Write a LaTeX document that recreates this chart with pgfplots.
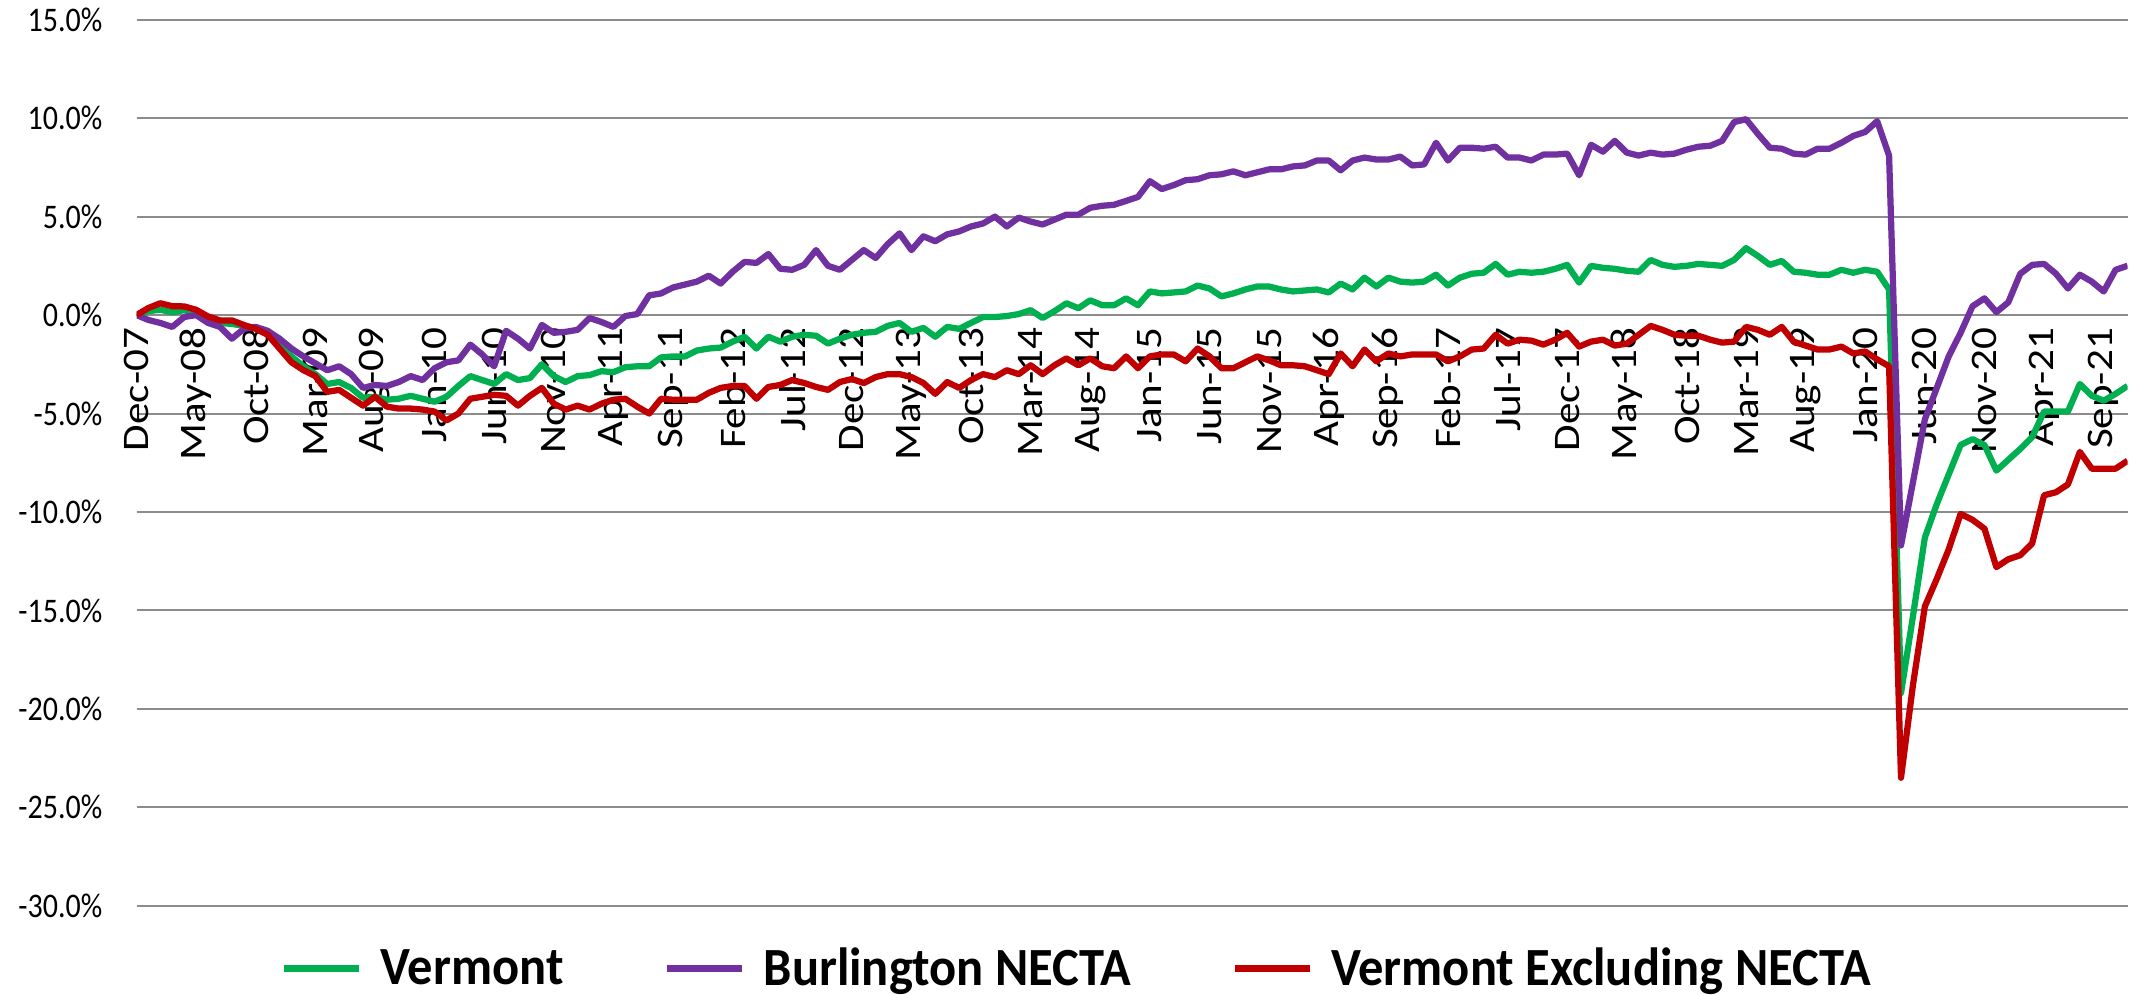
\documentclass[border=0pt]{standalone}
\usepackage{fontspec}
\setmainfont{Carlito}
\newfontfamily\xlabfont[FakeStretch=1.15]{Carlito}
\newfontfamily\narrowfont[FakeStretch=0.87]{Carlito}
\newfontfamily\legfont[FakeStretch=0.94]{Carlito}
\usepackage{pgfplots}
\usepackage{pgfplotstable}
\pgfplotsset{compat=1.18}
\definecolor{vtgreen}{HTML}{00B050}
\definecolor{btvpurple}{HTML}{7030A0}
\definecolor{restred}{HTML}{C00000}
\definecolor{gridgray}{HTML}{8C8C8C}

% month index (0 = Dec-07), change since Dec-07 in %
\pgfplotstableread{
m vt btv rest
0 0 0 0
1 0.2 -0.25 0.36
2 0.27 -0.4 0.6
3 0.14 -0.6 0.45
4 0.25 -0.1 0.44
5 0.07 0.0 0.27
6 -0.25 -0.4 -0.07
7 -0.4 -0.6 -0.27
8 -0.45 -1.2 -0.27
9 -0.55 -0.7 -0.5
10 -0.65 -0.6 -0.7
11 -0.9 -0.8 -1.0
12 -1.5 -1.2 -1.7
13 -2.1 -1.7 -2.4
14 -2.6 -2.1 -2.8
15 -3.0 -2.45 -3.1
16 -3.5 -2.8 -3.9
17 -3.4 -2.6 -3.8
18 -3.7 -3.0 -4.2
19 -4.2 -3.7 -4.6
20 -4.15 -3.55 -4.15
21 -4.3 -3.6 -4.65
22 -4.25 -3.4 -4.75
23 -4.1 -3.1 -4.75
24 -4.25 -3.3 -4.8
25 -4.4 -2.7 -4.9
26 -4.15 -2.4 -5.35
27 -3.6 -2.3 -5.0
28 -3.1 -1.5 -4.25
29 -3.3 -2.0 -4.15
30 -3.5 -2.6 -4.05
31 -3.0 -0.8 -4.1
32 -3.3 -1.2 -4.6
33 -3.2 -1.7 -4.1
34 -2.5 -0.5 -3.7
35 -3.1 -0.9 -4.5
36 -3.4 -0.85 -4.8
37 -3.1 -0.75 -4.6
38 -3.05 -0.15 -4.8
39 -2.85 -0.35 -4.5
40 -2.9 -0.6 -4.3
41 -2.65 -0.05 -4.25
42 -2.6 0.05 -4.65
43 -2.6 1.0 -5.0
44 -2.15 1.1 -4.25
45 -2.1 1.4 -4.3
46 -2.1 1.55 -4.3
47 -1.8 1.7 -4.3
48 -1.7 2.0 -3.95
49 -1.65 1.6 -3.7
50 -1.35 2.2 -3.6
51 -1.1 2.7 -3.6
52 -1.7 2.65 -4.25
53 -1.1 3.1 -3.65
54 -1.35 2.35 -3.55
55 -1.1 2.3 -3.3
56 -1.0 2.55 -3.45
57 -1.05 3.3 -3.65
58 -1.45 2.5 -3.8
59 -1.2 2.3 -3.4
60 -1.0 2.8 -3.25
61 -0.9 3.3 -3.45
62 -0.85 2.9 -3.15
63 -0.55 3.6 -3.0
64 -0.4 4.15 -3.0
65 -0.85 3.3 -3.15
66 -0.65 4.0 -3.45
67 -1.1 3.75 -4.0
68 -0.6 4.1 -3.4
69 -0.7 4.25 -3.7
70 -0.4 4.5 -3.3
71 -0.1 4.65 -3.0
72 -0.1 5.0 -3.15
73 -0.05 4.5 -2.8
74 0.05 4.95 -3.0
75 0.25 4.75 -2.55
76 -0.15 4.6 -3.0
77 0.2 4.85 -2.55
78 0.6 5.1 -2.2
79 0.35 5.1 -2.55
80 0.75 5.45 -2.2
81 0.5 5.55 -2.6
82 0.5 5.6 -2.7
83 0.85 5.8 -2.1
84 0.5 6.0 -2.7
85 1.2 6.8 -2.1
86 1.1 6.4 -2.0
87 1.15 6.6 -2.0
88 1.2 6.85 -2.35
89 1.5 6.9 -1.7
90 1.35 7.1 -2.1
91 0.95 7.15 -2.7
92 1.1 7.3 -2.7
93 1.3 7.1 -2.4
94 1.45 7.25 -2.1
95 1.45 7.4 -2.3
96 1.3 7.4 -2.55
97 1.2 7.55 -2.55
98 1.25 7.6 -2.6
99 1.3 7.85 -2.8
100 1.15 7.85 -3.0
101 1.6 7.35 -1.95
102 1.3 7.85 -2.6
103 1.9 8.0 -1.75
104 1.45 7.9 -2.35
105 1.9 7.9 -1.95
106 1.7 8.05 -2.1
107 1.65 7.6 -2.0
108 1.7 7.65 -2.0
109 2.05 8.75 -2.0
110 1.5 7.85 -2.35
111 1.9 8.5 -2.1
112 2.1 8.5 -1.75
113 2.15 8.45 -1.7
114 2.6 8.55 -1.0
115 2.05 8.0 -1.45
116 2.2 8.0 -1.25
117 2.15 7.85 -1.3
118 2.2 8.15 -1.5
119 2.35 8.15 -1.25
120 2.55 8.2 -0.9
121 1.65 7.1 -1.6
122 2.5 8.65 -1.35
123 2.4 8.3 -1.25
124 2.35 8.85 -1.55
125 2.25 8.25 -1.45
126 2.2 8.1 -1.0
127 2.8 8.25 -0.55
128 2.55 8.15 -0.75
129 2.45 8.2 -1.0
130 2.5 8.4 -1.05
131 2.6 8.55 -1.05
132 2.55 8.6 -1.25
133 2.5 8.85 -1.4
134 2.8 9.8 -1.35
135 3.4 9.95 -0.6
136 3.0 9.2 -0.75
137 2.55 8.5 -1.0
138 2.75 8.45 -0.6
139 2.2 8.2 -1.35
140 2.15 8.15 -1.55
141 2.05 8.45 -1.75
142 2.05 8.45 -1.75
143 2.3 8.75 -1.6
144 2.15 9.1 -1.95
145 2.3 9.3 -1.85
146 2.2 9.85 -2.25
147 1.3 8.1 -2.6
148 -19.2 -11.7 -23.5
149 -15.3 -8.5 -18.8
150 -11.3 -5.3 -14.8
151 -9.6 -3.7 -13.4
152 -8.1 -2.1 -11.9
153 -6.6 -0.9 -10.1
154 -6.3 0.45 -10.4
155 -6.6 0.85 -10.85
156 -7.9 0.15 -12.8
157 -7.35 0.65 -12.4
158 -6.8 2.1 -12.2
159 -6.2 2.55 -11.6
160 -4.9 2.6 -9.15
161 -4.9 2.1 -9.0
162 -4.9 1.35 -8.6
163 -3.5 2.05 -6.95
164 -4.1 1.7 -7.8
165 -4.35 1.2 -7.8
166 -4.0 2.3 -7.8
167 -3.6 2.5 -7.4
}\jobs

\begin{document}
\begin{tikzpicture}
\begin{axis}[
  width=796.4pt, height=354.4pt, scale only axis,
  xmin=0, xmax=167, ymin=-30, ymax=15,
  axis x line=middle, axis y line=left,
  axis line style={-},
  x axis line style={gridgray, line width=0.8pt},
  y axis line style={draw=none},
  hide obscured x ticks=false,
  major tick length=0pt,
  ymajorgrids, grid style={gridgray, line width=0.8pt},
  ytick={-30,-25,...,15},
  yticklabel={\pgfmathprintnumber[fixed,fixed zerofill,precision=1]{\tick}\%},
  yticklabel style={font=\narrowfont\fontsize{13.8}{15}\selectfont, inner sep=0pt, anchor=east},
  yticklabel shift=13.5pt,
  xtick={0,5,...,165},
  xticklabels={Dec-07,May-08,Oct-08,Mar-09,Aug-09,Jan-10,Jun-10,Nov-10,Apr-11,Sep-11,
    Feb-12,Jul-12,Dec-12,May-13,Oct-13,Mar-14,Aug-14,Jan-15,Jun-15,Nov-15,Apr-16,Sep-16,
    Feb-17,Jul-17,Dec-17,May-18,Oct-18,Mar-19,Aug-19,Jan-20,Jun-20,Nov-20,Apr-21,Sep-21},
  xticklabel style={font=\xlabfont\fontsize{15}{17}\selectfont, rotate=90, anchor=east, inner sep=0pt},
  xticklabel shift=5pt,
  /pgf/number format/assume math mode=true,
  every axis plot/.append style={line width=2.5pt, line join=round},
  legend columns=3,
  legend image code/.code={\draw[#1, line width=3pt] (0pt,0pt) -- (30pt,0pt);},
  legend style={at={(0.473,-0.071)}, anchor=center, draw=none, fill=none,
    font=\legfont\bfseries\fontsize{21.5}{24}\selectfont,
    /tikz/every odd column/.append style={column sep=5pt},
    /tikz/every even column/.append style={column sep=38pt}},
]
\addplot[vtgreen] table[x=m, y=vt] {\jobs};
\addplot[btvpurple] table[x=m, y=btv] {\jobs};
\addplot[restred] table[x=m, y=rest] {\jobs};
\legend{Vermont, Burlington NECTA, Vermont Excluding NECTA}
\coordinate (bl) at (rel axis cs:0,0);
\coordinate (tr) at (rel axis cs:1,1);
\end{axis}
\pgfresetboundingbox
\path ([shift={(-54.6pt,-35.6pt)}]bl) rectangle ([shift={(4.2pt,7.9pt)}]tr);
\end{tikzpicture}
\end{document}
